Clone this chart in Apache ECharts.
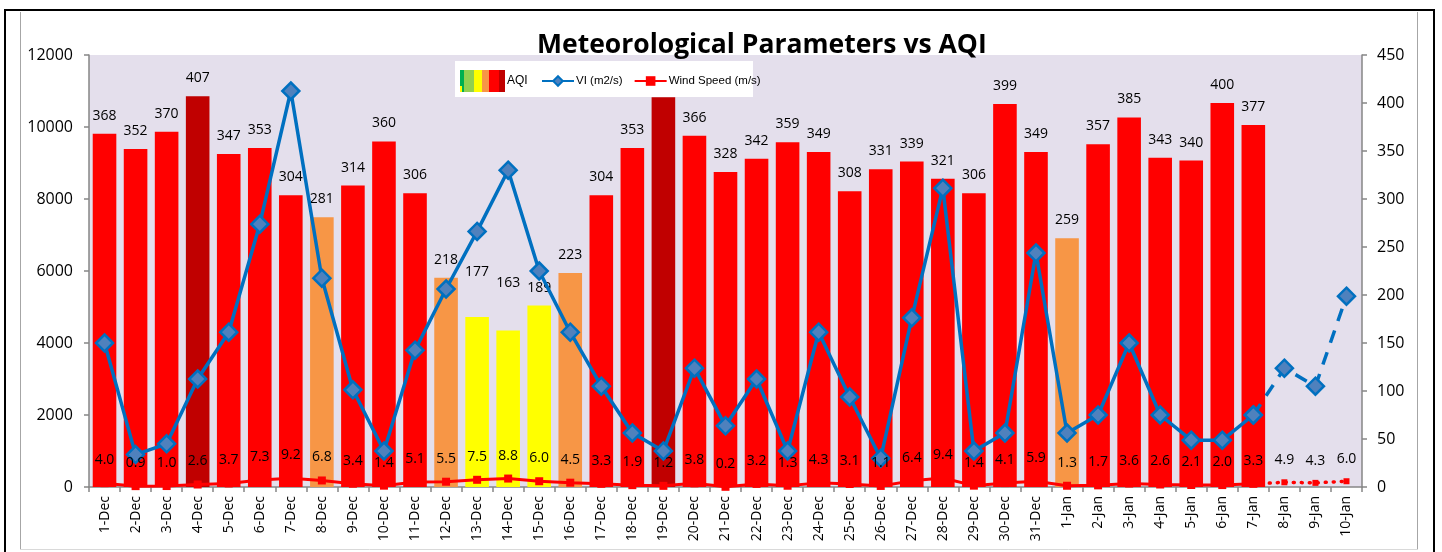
<!DOCTYPE html>
<html>
<head>
<meta charset="utf-8">
<script src="https://cdn.jsdelivr.net/npm/echarts@6/dist/echarts.min.js"></script>
<style>
html,body{margin:0;padding:0;background:#fff;}
#c{width:1442px;height:552px;}
</style>
</head>
<body>
<div id="c"></div>
<script>
const categories = ['1-Dec','2-Dec','3-Dec','4-Dec','5-Dec','6-Dec','7-Dec','8-Dec','9-Dec','10-Dec',
  '11-Dec','12-Dec','13-Dec','14-Dec','15-Dec','16-Dec','17-Dec','18-Dec','19-Dec','20-Dec',
  '21-Dec','22-Dec','23-Dec','24-Dec','25-Dec','26-Dec','27-Dec','28-Dec','29-Dec','30-Dec','31-Dec',
  '1-Jan','2-Jan','3-Jan','4-Jan','5-Jan','6-Jan','7-Jan','8-Jan','9-Jan','10-Jan'];
const aqi = [368,352,370,407,347,353,304,281,314,360,
  306,218,177,163,189,223,304,353,406,366,
  328,342,359,349,308,331,339,321,306,399,349,
  259,357,385,343,340,400,377,null,null,null];
const vi = [4000,900,1200,3000,4300,7300,11000,5800,2700,1000,
  3800,5500,7100,8800,6000,4300,2800,1500,1000,3300,
  1700,3000,1000,4300,2500,800,4700,8300,1000,1500,6500,
  1500,2000,4000,2000,1300,1300,2000,3300,2800,5300];
const wind = [4.0,0.9,1.0,2.6,3.7,7.3,9.2,6.8,3.4,1.4,
  5.1,5.5,7.5,8.8,6.0,4.5,3.3,1.9,1.2,3.8,
  0.2,3.2,1.3,4.3,3.1,1.1,6.4,9.4,1.4,4.1,5.9,
  1.3,1.7,3.6,2.6,2.1,2.0,3.3,4.9,4.3,6.0];
const leftTicks = {min:0, max:12000, interval:2000};
const rightTicks = {min:0, max:450, interval:50};

const lastObserved = categories.indexOf('7-Jan');
const FONT = "'Open Sans', 'Noto Sans', sans-serif";
const LEGEND_FONT = "'Liberation Sans', Arial, sans-serif";

function aqiColor(v){
  if (v > 400) return '#C00000';
  if (v > 300) return '#FF0000';
  if (v > 200) return '#F79646';
  if (v > 100) return '#FFFF00';
  return '#92D050';
}
// manual label lifts (label placement tweaks from the reference)
const labelLift = {12: 27, 13: 30};

const barData = aqi.map((v,i)=>{
  if (v == null) return null;
  const o = {value:v, itemStyle:{color:aqiColor(v)}};
  if (labelLift[i]) o.label = {distance: 11 + labelLift[i]};
  return o;
});
const viSolid = vi.map((v,i)=> i <= lastObserved ? v : null);
const viDash = vi.map((v,i)=> i >= lastObserved ? v : null);
const windSolid = wind.map((v,i)=> i <= lastObserved ? v : null);
const windDot = wind.map((v,i)=> {
  if (i < lastObserved) return null;
  if (i === lastObserved) return {value:v, label:{show:false}};
  return v;
});

// AQI legend swatch (colour scale stripes)
const stripes = [['#00B050',4],['#92D050',10],['#FFFF00',8],['#F79646',7],['#FF0000',10],['#C00000',6]];
const swatch = [];
let sx = 460;
stripes.forEach(([c,w])=>{ swatch.push({type:'rect', z:7, shape:{x:sx, y:70, width:w, height:22}, style:{fill:c}}); sx += w; });
swatch.push({type:'rect', z:7, shape:{x:460, y:86, width:2, height:6}, style:{fill:'#FFFF00'}});

const chart = echarts.init(document.getElementById('c'), null, {renderer:'canvas'});
const option = {
  animation: false,
  backgroundColor: '#ffffff',
  title: {
    text: 'Meteorological Parameters vs AQI',
    left: 532, top: 27,
    textStyle: {fontFamily: FONT, fontWeight: 'bold', fontSize: 26.5, color: '#000'}
  },
  graphic: [
    {type:'line', z:0, shape:{x1:4, y1:10, x2:1435, y2:10}, style:{stroke:'#000', lineWidth:2}},
    {type:'line', z:0, shape:{x1:5, y1:10, x2:5, y2:552}, style:{stroke:'#000', lineWidth:2}},
    {type:'line', z:0, shape:{x1:1434, y1:10, x2:1434, y2:552}, style:{stroke:'#000', lineWidth:2}},
    {type:'line', z:0, shape:{x1:20.5, y1:12, x2:20.5, y2:550}, style:{stroke:'#A6A6A6', lineWidth:1}},
    {type:'line', z:0, shape:{x1:1417.5, y1:12, x2:1417.5, y2:550}, style:{stroke:'#A6A6A6', lineWidth:1}},
    {type:'line', z:0, shape:{x1:20, y1:549.5, x2:1418, y2:549.5}, style:{stroke:'#D9D9D9', lineWidth:1}},
    {type:'rect', z:5, shape:{x:455, y:61, width:298, height:36}, style:{fill:'#ffffff'}}
  ].concat(swatch),
  legend: [
    {
      z: 6, left: 460, top: 70, padding: 0, itemWidth: 45, itemHeight: 22, itemGap: 4,
      data: [{name:'AQI', icon:'rect', itemStyle:{color:'rgba(0,0,0,0)'}}],
      textStyle: {fontFamily: LEGEND_FONT, fontSize: 12, color: '#000', padding:[0,0,0,-3]}
    },
    {
      z: 6, left: 541, top: 75, padding: 0, itemWidth: 32, itemHeight: 12, itemGap: 11,
      data: ['VI (m2/s)', 'Wind Speed (m/s)'],
      textStyle: {fontFamily: LEGEND_FONT, fontSize: 11.5, color: '#000', padding:[0,0,0,-3]}
    }
  ],
  grid: {left: 89, right: 80, top: 55, bottom: 65, show: true, backgroundColor: '#E4DFEC', borderWidth: 0},
  xAxis: {
    type: 'category', data: categories, boundaryGap: true,
    axisLine: {show:true, lineStyle:{color:'#868686', width:1.5}},
    axisTick: {show:true, length:5, interval:0, lineStyle:{color:'#868686', width:1.5}},
    axisLabel: {interval:0, rotate:90, margin:9, fontFamily: FONT, fontSize:14, color:'#000'},
    splitLine: {show:false}
  },
  yAxis: [
    {
      type:'value', min:leftTicks.min, max:leftTicks.max, interval:leftTicks.interval,
      axisLine:{show:true, lineStyle:{color:'#868686', width:1.5}},
      axisTick:{show:true, length:5, lineStyle:{color:'#868686', width:1.5}},
      axisLabel:{margin:16, fontFamily: FONT, fontSize:16, color:'#000', formatter: v => String(v)},
      splitLine:{show:false}
    },
    {
      type:'value', min:rightTicks.min, max:rightTicks.max, interval:rightTicks.interval,
      position:'right',
      axisLine:{show:true, lineStyle:{color:'#868686', width:1.5}},
      axisTick:{show:true, length:5, lineStyle:{color:'#868686', width:1.5}},
      axisLabel:{margin:15, fontFamily: FONT, fontSize:16, color:'#000', formatter: v => String(v)},
      splitLine:{show:false}
    }
  ],
  series: [
    {
      name:'AQI', type:'bar', yAxisIndex:1, data: barData, barCategoryGap:'24%', z:2,
      itemStyle:{color:'#FF0000'},
      label:{show:true, position:'top', distance:11, fontFamily: FONT, fontSize:14, color:'#000'}
    },
    {
      name:'VI (m2/s)', type:'line', yAxisIndex:0, data: viSolid, z:3,
      symbol:'diamond', symbolSize:17, showAllSymbol:true,
      lineStyle:{color:'#0070C0', width:3.5},
      itemStyle:{color:'#4F81BD', borderColor:'#0070C0', borderWidth:2.5}
    },
    {
      name:'VI (m2/s)', type:'line', yAxisIndex:0, data: viDash, z:3,
      symbol:'diamond', symbolSize:17, showAllSymbol:true,
      lineStyle:{color:'#0070C0', width:3.5, type:[13,10]},
      itemStyle:{color:'#4F81BD', borderColor:'#0070C0', borderWidth:2.5}
    },
    {
      name:'Wind Speed (m/s)', type:'line', yAxisIndex:1, data: windSolid, z:4,
      symbol:'rect', symbolSize:8, showAllSymbol:true,
      lineStyle:{color:'#FF0000', width:3},
      itemStyle:{color:'#FF0000'},
      label:{show:true, position:'top', distance:12, fontFamily: FONT, fontSize:14, color:'#000',
        formatter: p => Number(p.value).toFixed(1)}
    },
    {
      name:'Wind Speed (m/s)', type:'line', yAxisIndex:1, data: windDot, z:4,
      symbol:'rect', symbolSize:6, showAllSymbol:true,
      lineStyle:{color:'#FF0000', width:3.5, type:[1,7], cap:'round'},
      itemStyle:{color:'#FF0000'},
      label:{show:true, position:'top', distance:12, fontFamily: FONT, fontSize:14, color:'#000',
        formatter: p => Number(p.value).toFixed(1)}
    }
  ]
};
chart.setOption(option);
</script>
</body>
</html>
